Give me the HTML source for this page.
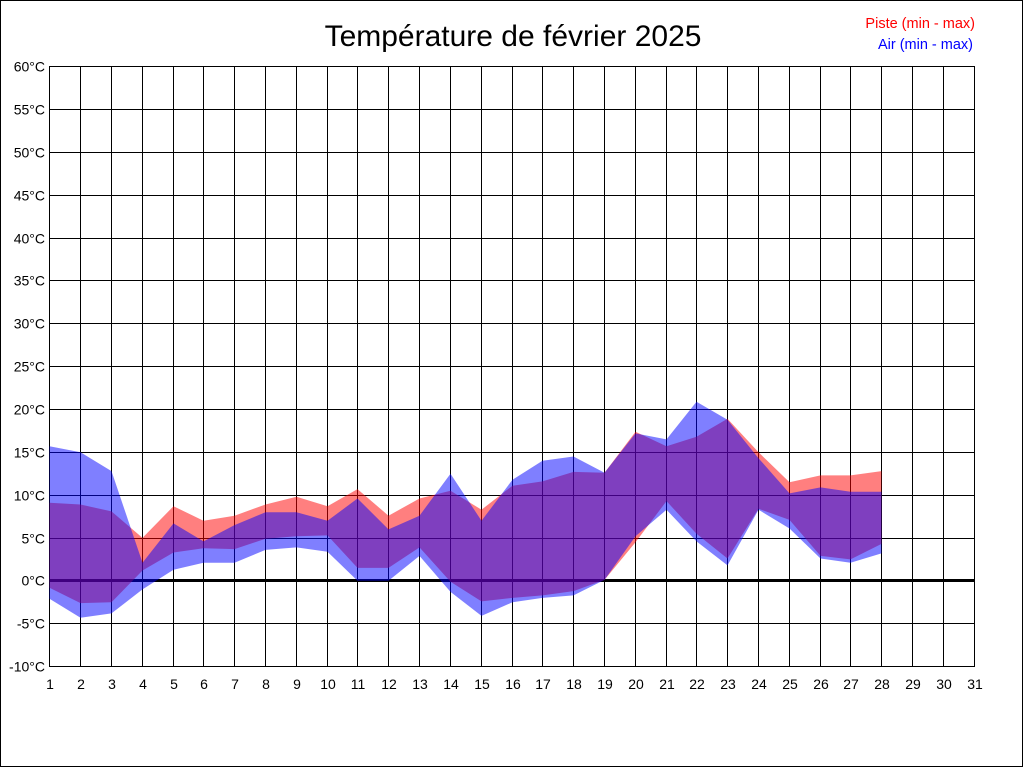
<!DOCTYPE html>
<html>
<head>
<meta charset="utf-8">
<style>
html,body{margin:0;padding:0;background:#fff;}
svg{display:block;}
text{font-family:"Liberation Sans",Arial,sans-serif;}
</style>
</head>
<body>
<svg width="1024" height="768" viewBox="0 0 1024 768" xmlns="http://www.w3.org/2000/svg">
<rect x="0" y="0" width="1024" height="768" fill="#fff"/>
<rect x="0.5" y="0.5" width="1022" height="766" fill="none" stroke="#000" stroke-width="1"/>

<text x="513" y="46" font-size="30" text-anchor="middle" fill="#000">Température de février 2025</text>
<text x="975" y="28" font-size="14.5" text-anchor="end" fill="#ff0000">Piste (min - max)</text>
<text x="973" y="49" font-size="14.5" text-anchor="end" fill="#0000ff">Air (min - max)</text>

<g stroke="#000" stroke-width="1" shape-rendering="crispEdges">
<line x1="49" y1="66.5" x2="975" y2="66.5"/>
<line x1="49" y1="109.5" x2="975" y2="109.5"/>
<line x1="49" y1="152.5" x2="975" y2="152.5"/>
<line x1="49" y1="195.5" x2="975" y2="195.5"/>
<line x1="49" y1="238.5" x2="975" y2="238.5"/>
<line x1="49" y1="280.5" x2="975" y2="280.5"/>
<line x1="49" y1="323.5" x2="975" y2="323.5"/>
<line x1="49" y1="366.5" x2="975" y2="366.5"/>
<line x1="49" y1="409.5" x2="975" y2="409.5"/>
<line x1="49" y1="452.5" x2="975" y2="452.5"/>
<line x1="49" y1="495.5" x2="975" y2="495.5"/>
<line x1="49" y1="538.5" x2="975" y2="538.5"/>
<line x1="49" y1="623.5" x2="975" y2="623.5"/>
<line x1="49" y1="666.5" x2="975" y2="666.5"/>
<line x1="49.5" y1="66" x2="49.5" y2="667"/>
<line x1="80.5" y1="66" x2="80.5" y2="667"/>
<line x1="111.5" y1="66" x2="111.5" y2="667"/>
<line x1="142.5" y1="66" x2="142.5" y2="667"/>
<line x1="173.5" y1="66" x2="173.5" y2="667"/>
<line x1="203.5" y1="66" x2="203.5" y2="667"/>
<line x1="234.5" y1="66" x2="234.5" y2="667"/>
<line x1="265.5" y1="66" x2="265.5" y2="667"/>
<line x1="296.5" y1="66" x2="296.5" y2="667"/>
<line x1="327.5" y1="66" x2="327.5" y2="667"/>
<line x1="357.5" y1="66" x2="357.5" y2="667"/>
<line x1="388.5" y1="66" x2="388.5" y2="667"/>
<line x1="419.5" y1="66" x2="419.5" y2="667"/>
<line x1="450.5" y1="66" x2="450.5" y2="667"/>
<line x1="481.5" y1="66" x2="481.5" y2="667"/>
<line x1="512.5" y1="66" x2="512.5" y2="667"/>
<line x1="542.5" y1="66" x2="542.5" y2="667"/>
<line x1="573.5" y1="66" x2="573.5" y2="667"/>
<line x1="604.5" y1="66" x2="604.5" y2="667"/>
<line x1="635.5" y1="66" x2="635.5" y2="667"/>
<line x1="666.5" y1="66" x2="666.5" y2="667"/>
<line x1="696.5" y1="66" x2="696.5" y2="667"/>
<line x1="727.5" y1="66" x2="727.5" y2="667"/>
<line x1="758.5" y1="66" x2="758.5" y2="667"/>
<line x1="789.5" y1="66" x2="789.5" y2="667"/>
<line x1="820.5" y1="66" x2="820.5" y2="667"/>
<line x1="850.5" y1="66" x2="850.5" y2="667"/>
<line x1="881.5" y1="66" x2="881.5" y2="667"/>
<line x1="912.5" y1="66" x2="912.5" y2="667"/>
<line x1="943.5" y1="66" x2="943.5" y2="667"/>
<line x1="974.5" y1="66" x2="974.5" y2="667"/>
</g>
<rect x="49" y="579" width="926" height="3" fill="#000"/>

<polygon fill="rgba(255,0,0,0.5)" points="49.5,502.8 80.5,504.5 111.5,511.4 142.5,537.9 173.5,506.2 203.5,520.8 234.5,515.7 265.5,504.5 296.5,496.8 327.5,506.2 357.5,489.1 388.5,515.7 419.5,498.5 450.5,490.8 481.5,509.7 512.5,485.7 542.5,481.4 573.5,471.9 604.5,472.8 635.5,431.7 666.5,446.2 696.5,436.8 727.5,418.8 758.5,452.2 789.5,482.2 820.5,475.4 850.5,475.4 881.5,471.1 881.5,543.9 850.5,559.4 820.5,555.9 789.5,519.9 758.5,508.8 727.5,558.5 696.5,533.7 666.5,501.1 635.5,542.2 604.5,579.9 573.5,591.1 542.5,595.4 512.5,597.9 481.5,601.4 450.5,581.7 419.5,547.4 388.5,567.9 357.5,567.9 327.5,535.4 296.5,536.2 265.5,538.8 234.5,549.1 203.5,548.2 173.5,552.5 142.5,570.5 111.5,602.2 80.5,603.1 49.5,587.7"/>

<polygon fill="rgba(0,0,255,0.5)" points="49.5,446.2 80.5,452.2 111.5,471.1 142.5,562.8 173.5,523.4 203.5,541.4 234.5,525.1 265.5,512.2 296.5,512.2 327.5,520.8 357.5,498.5 388.5,529.4 419.5,515.7 450.5,473.7 481.5,520.8 512.5,479.7 542.5,460.8 573.5,456.5 604.5,472.8 635.5,433.4 666.5,439.4 696.5,401.7 727.5,419.7 758.5,458.2 789.5,493.4 820.5,487.4 850.5,491.7 881.5,491.7 881.5,553.4 850.5,562.8 820.5,558.5 789.5,528.5 758.5,509.7 727.5,565.4 696.5,541.4 666.5,509.7 635.5,536.2 604.5,579.9 573.5,595.4 542.5,597.9 512.5,602.2 481.5,615.9 450.5,591.9 419.5,555.9 388.5,580.8 357.5,580.8 327.5,551.7 296.5,547.4 265.5,549.9 234.5,562.8 203.5,562.8 173.5,569.7 142.5,589.4 111.5,613.4 80.5,617.7 49.5,598.8"/>

<g font-size="14" text-anchor="end" fill="#000">
<text x="45" y="71.5">60°C</text>
<text x="45" y="114.5">55°C</text>
<text x="45" y="157.5">50°C</text>
<text x="45" y="200.5">45°C</text>
<text x="45" y="243.5">40°C</text>
<text x="45" y="285.5">35°C</text>
<text x="45" y="328.5">30°C</text>
<text x="45" y="371.5">25°C</text>
<text x="45" y="414.5">20°C</text>
<text x="45" y="457.5">15°C</text>
<text x="45" y="500.5">10°C</text>
<text x="45" y="543.5">5°C</text>
<text x="45" y="585.5">0°C</text>
<text x="45" y="628.5">-5°C</text>
<text x="45" y="671.5">-10°C</text>
</g>

<g font-size="14" text-anchor="middle" fill="#000">
<text x="50" y="689">1</text>
<text x="81" y="689">2</text>
<text x="112" y="689">3</text>
<text x="143" y="689">4</text>
<text x="174" y="689">5</text>
<text x="204" y="689">6</text>
<text x="235" y="689">7</text>
<text x="266" y="689">8</text>
<text x="297" y="689">9</text>
<text x="328" y="689">10</text>
<text x="358" y="689">11</text>
<text x="389" y="689">12</text>
<text x="420" y="689">13</text>
<text x="451" y="689">14</text>
<text x="482" y="689">15</text>
<text x="513" y="689">16</text>
<text x="543" y="689">17</text>
<text x="574" y="689">18</text>
<text x="605" y="689">19</text>
<text x="636" y="689">20</text>
<text x="667" y="689">21</text>
<text x="697" y="689">22</text>
<text x="728" y="689">23</text>
<text x="759" y="689">24</text>
<text x="790" y="689">25</text>
<text x="821" y="689">26</text>
<text x="851" y="689">27</text>
<text x="882" y="689">28</text>
<text x="913" y="689">29</text>
<text x="944" y="689">30</text>
<text x="975" y="689">31</text>
</g>
</svg>
</body>
</html>
